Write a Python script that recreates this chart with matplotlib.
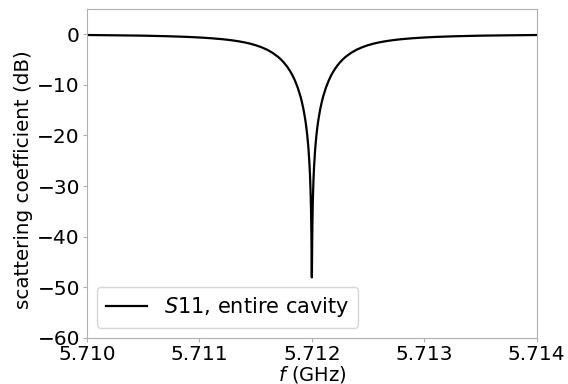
import numpy as np
import matplotlib
matplotlib.use('Agg')
import matplotlib.pyplot as plt
from matplotlib.ticker import FormatStrFormatter

# frekuensi (GHz) dan S11 (dB)
freq_ghz = [5.710, 5.71025, 5.7104, 5.7105, 5.7106, 5.7107, 5.7108, 5.7109,
            5.711, 5.7111, 5.7112, 5.71125, 5.7113, 5.71135, 5.7114, 5.71145,
            5.7115, 5.71155, 5.7116, 5.71165, 5.7117, 5.711725, 5.71175,
            5.711775, 5.7118, 5.711825, 5.71185, 5.711875, 5.7119, 5.71191,
            5.711925, 5.71194, 5.71195, 5.71196, 5.71197, 5.71198, 5.711985,
            5.71199, 5.7119925, 5.711995, 5.711997, 5.711998, 5.711999,
            5.712,
            5.712001, 5.712002, 5.712003, 5.712005, 5.7120075, 5.71201,
            5.712015, 5.71202, 5.71203, 5.71204, 5.71205, 5.71206, 5.712075,
            5.71209, 5.7121, 5.712125, 5.71215, 5.712175, 5.7122, 5.712225,
            5.71225, 5.712275, 5.7123, 5.71235, 5.7124, 5.71245, 5.7125,
            5.71255, 5.7126, 5.71265, 5.7127, 5.71275, 5.7128, 5.7129, 5.713,
            5.7131, 5.7132, 5.7133, 5.7134, 5.7135, 5.7136, 5.71375, 5.714]
s11_db = [-0.17, -0.23, -0.27, -0.30, -0.35, -0.40, -0.47, -0.55,
          -0.66, -0.80, -0.99, -1.11, -1.25, -1.42, -1.62, -1.87,
          -2.18, -2.57, -3.05, -3.68, -4.49, -4.99, -5.58,
          -6.26, -7.06, -8.01, -9.17, -10.59, -12.38, -13.25,
          -14.77, -16.66, -18.21, -20.12, -22.60, -26.09, -28.56,
          -32.02, -34.43, -37.72, -41.50, -43.96, -46.61,
          -48.04,
          -46.61, -43.96, -41.50, -37.72, -34.43, -32.02,
          -28.56, -26.09, -22.60, -20.12, -18.21, -16.66, -14.77,
          -13.25, -12.38, -10.59, -9.17, -8.01, -7.06, -6.26,
          -5.58, -4.99, -4.49, -3.68, -3.05, -2.57, -2.18,
          -1.87, -1.62, -1.42, -1.25, -1.11, -0.99, -0.80, -0.66,
          -0.55, -0.47, -0.40, -0.35, -0.30, -0.27, -0.23, -0.17]

x_ticks = [5.710, 5.711, 5.712, 5.713, 5.714]
y_ticks = [0, -10, -20, -30, -40, -50, -60]

plt.rcParams['font.size'] = 14

fig = plt.figure(figsize=(5.68, 3.84), dpi=100)
ax = fig.add_axes([0.153, 0.120, 0.792, 0.857])

ax.plot(freq_ghz, s11_db, color='black', lw=1.6, label='$S$11, entire cavity')

ax.set_xlim(5.710, 5.714)
ax.set_ylim(-60, 5)
ax.set_xticks(x_ticks)
ax.set_yticks(y_ticks)
ax.xaxis.set_major_formatter(FormatStrFormatter('%.3f'))

for s in ax.spines.values():
    s.set_color('#b0b0b0')
ax.tick_params(length=3, color='#b0b0b0', labelsize=14.5, pad=2)

ax.set_xlabel('$f$ (GHz)', fontsize=14, labelpad=0)
ax.set_ylabel('scattering coefficient (dB)', fontsize=14.3)
ax.yaxis.set_label_coords(-0.12, 0.48)
ax.legend(loc='lower left', fontsize=15)

fig.savefig('out.png', dpi=100)
